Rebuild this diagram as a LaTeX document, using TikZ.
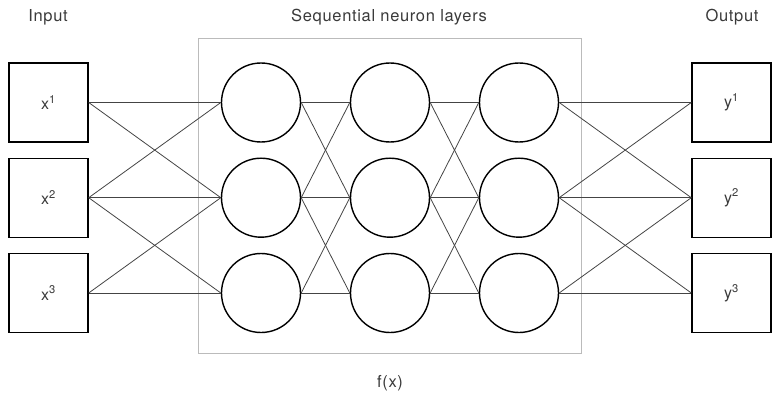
\documentclass[tikz,border=0pt]{standalone}
\usepackage{fontspec}
\setmainfont{TeX Gyre Heros}[LetterSpace=4]
\definecolor{txt}{HTML}{3A3A3A}
\definecolor{edge}{HTML}{444444}
\definecolor{frame}{HTML}{BBBBBB}
\begin{document}
\begin{tikzpicture}[x=1pt,y=-1pt,
  iobox/.style={draw=black,line width=1.4pt,minimum size=79pt,inner sep=0pt,
    font=\fontsize{16}{19}\selectfont,text=txt},
  neuron/.style={draw=black,line width=1.4pt,circle,minimum size=79pt,inner sep=0pt},
  link/.style={draw=edge,line width=0.8pt},
  caption/.style={font=\fontsize{16.5}{19}\selectfont,text=txt}]
\useasboundingbox (0,0) rectangle (772,396);
% frame around the hidden layers
\draw[frame,line width=1pt] (198,39) rectangle (581,353);
\node[caption] (lin) at (48,17) {Input};
\node[caption] (lhid) at (389,17) {Sequential neuron layers};
\node[caption] (lout) at (732,17) {Output};
\node[caption] (lfx) at (390,383) {f(x)};
% input and output boxes, three neuron layers
\foreach \i/\y in {1/102.5,2/197.7,3/293}{
  \node[iobox] (x\i) at (48.5,\y) {x\textsuperscript{\i}};
  \node[iobox] (y\i) at (731.5,\y) {y\textsuperscript{\i}};
  \node[neuron] (a\i) at (261,\y) {};
  \node[neuron] (b\i) at (390,\y) {};
  \node[neuron] (c\i) at (519,\y) {};
}
% connections between neighbouring units
\foreach \i/\j in {1/1,1/2,2/1,2/2,2/3,3/2,3/3}{
  \draw[link] (x\i.east) -- (a\j.west);
  \draw[link] (a\i.east) -- (b\j.west);
  \draw[link] (b\i.east) -- (c\j.west);
  \draw[link] (c\i.east) -- (y\j.west);
}
\end{tikzpicture}
\end{document}
